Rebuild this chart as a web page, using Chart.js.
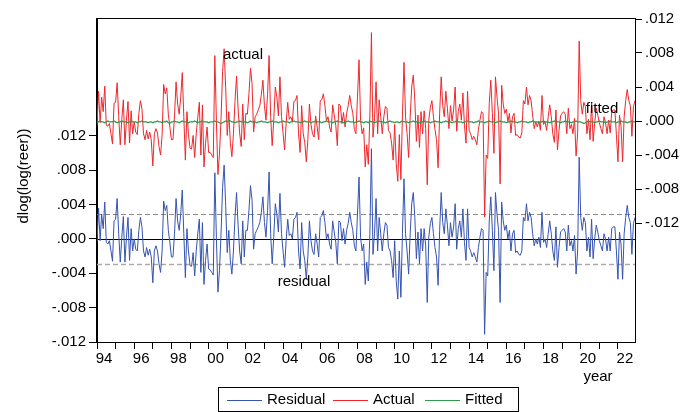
<!DOCTYPE html>
<html>
<head>
<meta charset="utf-8">
<script src="https://cdn.jsdelivr.net/npm/chart.js@4.4.0/dist/chart.umd.min.js"></script>
<style>
  html, body { margin: 0; background: #fff; }
  #wrap { width: 694px; height: 412px; position: relative; }
</style>
</head>
<body>
<div id="wrap"><canvas id="chart"></canvas></div>
<script>
// monthly observations, 1994M01 .. 2022M12
const residual = [
  -0.0004,0.0036,-0.0002,0.0029,0.0012,0.0043,-0.0004,-0.0006,-0.0002,-0.0014,-0.0026,0.0021,
  0.0023,0.0047,0.0006,-0.0027,0.0002,0.0026,-0.0027,0.0002,0.0025,-0.0025,0.0012,-0.0014,
  0,-0.0012,-0.0014,0.001,0.0025,0.0014,-0.0014,-0.0021,-0.001,-0.0019,-0.0012,-0.0021,
  -0.0051,-0.0014,-0.0008,-0.0014,-0.0029,-0.0039,-0.0014,0.0044,0.0033,0.0039,0.001,-0.0004,
  -0.0021,-0.0021,0.0006,0.0047,0.0021,0.001,0.0029,0.0057,0.0006,-0.0045,0.0012,-0.0014,
  -0.0031,-0.0032,-0.0016,-0.0043,-0.0014,0.0006,0.0023,-0.0039,0.0019,-0.0053,-0.0025,-0.0006,
  -0.0035,-0.0036,-0.0039,-0.0042,0.0077,0.0002,-0.0062,-0.0037,0.0006,0.006,0.0086,0.0039,
  -0.0016,0.001,-0.0025,-0.0041,-0.0014,0.0025,0.0054,0.0016,-0.0014,-0.0029,0.0021,-0.0021,
  0.001,0.001,0.0033,0.0062,0.0045,-0.0012,0.0006,0.001,0.0014,0.0019,0.0031,0.0049,
  0.0019,0.0002,0.0033,0.0078,0.0006,-0.0029,0.0002,0.0041,0.0029,0.0008,0.0053,0.0006,
  -0.0014,-0.0033,-0.0002,0.0023,0.0004,0.0006,0,0.0023,0.0025,0.0031,-0.0014,-0.0035,
  0.0019,-0.0014,-0.0025,-0.0047,-0.0021,0.0021,-0.0002,-0.0014,-0.0018,0.0006,-0.0006,-0.0021,
  0.0025,0.0027,0.0033,0.0019,0,0.0006,-0.0006,-0.0012,0.0021,0.0008,-0.0004,-0.0029,
  0.0021,0.0019,-0.0002,0.0012,-0.0006,0.001,0.0018,0.0031,0.0019,0.001,-0.0008,-0.0014,
  0.0029,0.0072,0.0002,-0.0014,-0.0006,-0.0053,-0.0027,-0.0049,0.0006,0.0105,-0.0018,0.0006,
  0.0047,-0.0014,0.0025,0.0006,-0.0014,0.0006,0.0019,0.0016,-0.001,-0.0014,-0.0025,-0.0045,
  -0.0002,-0.0049,-0.007,-0.0014,-0.0068,0.0006,0.007,0.0006,-0.0014,-0.0041,0.0006,0.0041,
  0.0054,0.0025,-0.0023,0.0008,-0.0029,0.0012,-0.0014,0.0012,-0.0008,-0.0074,0.0002,0.0018,
  0.0025,0.0006,-0.001,-0.0021,-0.0054,0.001,0.0054,0.0019,0.0006,0.0035,0.0016,-0.0008,
  0.0019,0.0002,0.0014,0.0041,-0.0012,0.0012,0.0021,0.0002,0.0035,-0.0004,-0.0025,0.0035,
  -0.001,-0.0014,-0.0021,-0.0016,-0.0021,-0.0027,-0.001,0.0002,0.0012,0.001,-0.0111,-0.0039,
  -0.0043,0.0021,0.0049,0.001,-0.0037,0.0054,0.0029,0.001,-0.0074,0.0043,0.0021,0.001,
  0.0016,0,0.001,-0.0014,0.0006,0.001,-0.0016,-0.0014,-0.0018,-0.0019,-0.0014,0.0025,
  0.0021,0.0041,0.0021,0.0031,0.0025,0.0006,-0.0008,0,-0.0006,0.0002,-0.001,0.0031,
  -0.0004,0,-0.001,0.0006,0.0021,0.0006,-0.0014,-0.0025,0.0014,-0.0033,-0.001,0.0008,
  0.001,0.0012,0.0008,-0.0014,0.0016,-0.0008,-0.0002,-0.0014,0.0004,-0.0041,-0.0014,0.0095,
  0.0025,0.001,0.0025,0.0019,-0.0014,0.0002,-0.0021,0.0023,-0.0023,0,0.0016,0.0008,
  -0.0002,-0.0008,-0.0014,0.0006,0,-0.0014,0.0002,-0.0014,0.0012,0.0014,0.0014,-0.0014,
  -0.0047,0.0008,-0.0006,-0.0047,0.0006,0.0025,0.0039,0.0025,0.0019,-0.0018,0.0018,0.0025
];

const fitted = [
  -0.0001,-0.0001,0,-0.0001,-0.0001,-0.0002,-0.0001,0,-0.0001,-0.0001,-0.0001,0,
  -0.0001,-0.0002,-0.0001,-0.0001,0,-0.0001,-0.0001,-0.0001,-0.0002,-0.0001,0,-0.0001,
  -0.0001,-0.0001,-0.0002,-0.0001,-0.0001,0,-0.0001,-0.0001,-0.0001,-0.0002,-0.0001,-0.0001,
  -0.0002,-0.0001,-0.0001,0,-0.0001,-0.0001,-0.0002,-0.0001,-0.0001,0,-0.0002,-0.0003,
  -0.0001,-0.0001,0,-0.0001,-0.0001,-0.0002,-0.0001,0,-0.0001,-0.0001,-0.0001,-0.0002,
  -0.0001,-0.0001,-0.0001,0,-0.0001,-0.0002,-0.0001,-0.0001,0,-0.0001,-0.0001,-0.0001,
  -0.0002,-0.0001,-0.0001,-0.0001,0,-0.0001,-0.0001,-0.0002,-0.0003,-0.0002,-0.0001,0,
  -0.0001,0.0001,0,-0.0001,-0.0001,-0.0002,-0.0001,-0.0001,0,-0.0001,-0.0001,-0.0001,
  -0.0001,-0.0002,-0.0001,0,-0.0001,-0.0001,-0.0001,-0.0002,-0.0001,-0.0001,0,-0.0001,
  -0.0001,-0.0001,-0.0002,-0.0001,-0.0001,0,-0.0001,-0.0001,-0.0001,-0.0002,-0.0001,-0.0001,
  0,-0.0001,-0.0001,-0.0001,-0.0002,-0.0001,-0.0001,0,-0.0001,-0.0001,-0.0001,-0.0002,
  -0.0001,-0.0001,0,-0.0001,-0.0001,-0.0001,-0.0002,-0.0001,-0.0001,0,-0.0001,-0.0001,
  -0.0001,-0.0002,-0.0001,-0.0001,0,-0.0001,-0.0001,-0.0001,-0.0002,-0.0001,-0.0001,0,
  -0.0001,-0.0001,-0.0001,-0.0002,-0.0001,-0.0001,0,-0.0001,-0.0001,-0.0001,-0.0002,-0.0001,
  -0.0001,0,-0.0001,-0.0001,-0.0002,-0.0001,-0.0001,-0.0002,0,-0.0001,-0.0001,-0.0002,
  -0.0001,-0.0001,0,-0.0001,-0.0001,-0.0001,-0.0002,-0.0001,-0.0001,0,-0.0001,-0.0001,
  -0.0002,-0.0001,-0.0001,-0.0002,-0.0001,0,-0.0001,-0.0001,-0.0001,-0.0002,-0.0001,-0.0001,
  0,-0.0001,-0.0001,-0.0001,-0.0002,-0.0001,-0.0001,0,-0.0001,-0.0001,-0.0001,-0.0002,
  -0.0001,-0.0001,0,-0.0001,-0.0001,-0.0001,-0.0002,-0.0001,-0.0001,0,-0.0001,-0.0001,
  -0.0001,-0.0002,-0.0001,-0.0001,0,-0.0001,-0.0001,-0.0001,-0.0002,-0.0001,-0.0001,0,
  -0.0001,-0.0001,-0.0001,-0.0002,-0.0001,-0.0001,0,-0.0001,-0.0001,-0.0001,-0.0002,-0.0001,
  -0.0001,0,-0.0001,-0.0001,-0.0001,-0.0002,-0.0001,-0.0001,0,-0.0001,-0.0001,-0.0001,
  -0.0002,-0.0001,-0.0001,0,-0.0001,-0.0001,-0.0001,-0.0002,-0.0001,-0.0001,0,-0.0001,
  -0.0001,-0.0001,-0.0002,-0.0001,-0.0001,0,-0.0001,-0.0001,-0.0001,-0.0002,-0.0001,-0.0001,
  0,-0.0001,-0.0001,-0.0001,-0.0002,-0.0001,-0.0001,0,-0.0001,-0.0001,-0.0001,-0.0002,
  -0.0001,-0.0001,0,-0.0001,-0.0001,-0.0001,-0.0002,-0.0001,-0.0001,0,-0.0001,-0.0001,
  -0.0001,-0.0002,-0.0003,-0.0002,-0.0001,0,-0.0001,-0.0001,-0.0001,-0.0002,-0.0001,-0.0001,
  0,-0.0001,-0.0001,-0.0001,-0.0002,-0.0001,-0.0001,0,-0.0001,-0.0001,-0.0001,-0.0002,
  -0.0001,-0.0001,0,-0.0001,-0.0001,-0.0001,-0.0002,-0.0001,-0.0001,0,-0.0001,-0.0001
];

// actual = fitted + residual
const actual = residual.map((r, i) => +(r + fitted[i]).toFixed(5));

const yearLabels = ['94','','96','','98','','00','','02','','04','','06','','08','',
                    '10','','12','','14','','16','','18','','20','','22'];
const leftTicks  = [-0.012, -0.008, -0.004, 0, 0.004, 0.008, 0.012];
const rightTicks = [-0.012, -0.008, -0.004, 0, 0.004, 0.008, 0.012];
const leftRange  = [-0.012, 0.0256];
const rightRange = [-0.026, 0.012];
const seBand = 0.00295;

const FONT = '"Liberation Sans", Arial, sans-serif';
const BLUE = '#3553b0', RED = '#f0262b', GREEN = '#2e9a4c';

const fmt = v => {
  if (Math.abs(v) < 1e-9) return '.000';
  const s = Math.abs(v).toFixed(3).replace(/^0/, '');
  return v < 0 ? '-' + s : s;
};
const pts = arr => arr.map((v, i) => ({ x: i, y: v }));

const decor = {
  id: 'decor',
  beforeDatasetsDraw(chart) {
    const { ctx, chartArea: a, scales: { y } } = chart;
    ctx.save();
    ctx.lineWidth = 1;
    ctx.setLineDash([5, 3]);
    ctx.strokeStyle = '#888';
    let py = Math.round(y.getPixelForValue(seBand)) + 0.5;
    ctx.beginPath(); ctx.moveTo(a.left, py); ctx.lineTo(a.right, py); ctx.stroke();
    ctx.strokeStyle = '#aaa';
    ctx.lineWidth = 1.5;
    py = Math.round(y.getPixelForValue(-seBand)) + 0.5;
    ctx.beginPath(); ctx.moveTo(a.left, py); ctx.lineTo(a.right, py); ctx.stroke();
    ctx.setLineDash([]);
    ctx.lineWidth = 1;
    ctx.strokeStyle = '#000';
    py = Math.round(y.getPixelForValue(0)) + 0.5;
    ctx.beginPath(); ctx.moveTo(a.left, py); ctx.lineTo(a.right, py); ctx.stroke();
    ctx.restore();
  },
  afterDraw(chart) {
    const { ctx, chartArea: a } = chart;
    ctx.save();
    ctx.strokeStyle = '#000';
    ctx.lineWidth = 1;
    ctx.strokeRect(a.left - 0.5, a.top - 0.5, a.right - a.left + 1, a.bottom - a.top + 1);

    ctx.fillStyle = '#000';
    ctx.font = '15px ' + FONT;
    ctx.textAlign = 'center';
    ctx.textBaseline = 'middle';
    ctx.fillText('actual', 243, 55);
    ctx.fillText('fitted', 602, 109);
    ctx.fillText('residual', 304, 282);
    ctx.fillText('year', 598, 377);

    ctx.save();
    ctx.translate(24, 176);
    ctx.rotate(-Math.PI / 2);
    ctx.fillText('dlog(log(reer))', 0, 0);
    ctx.restore();

    // legend
    ctx.strokeStyle = '#000';
    ctx.strokeRect(218.5, 387.5, 300, 24);
    const items = [['Residual', BLUE, 227], ['Actual', RED, 333], ['Fitted', GREEN, 425]];
    ctx.textAlign = 'left';
    items.forEach(([t, c, x]) => {
      ctx.strokeStyle = c;
      ctx.lineWidth = 1.2;
      ctx.beginPath(); ctx.moveTo(x, 400.5); ctx.lineTo(x + 35, 400.5); ctx.stroke();
      ctx.fillText(t, x + 40, 400);
    });
    ctx.restore();
  }
};

Chart.defaults.font.family = FONT;
Chart.defaults.font.size = 15;
Chart.defaults.color = '#000';

new Chart(document.getElementById('chart'), {
  type: 'line',
  data: {
    datasets: [
      { label: 'Fitted',   data: pts(fitted),   yAxisID: 'y1', borderColor: GREEN, borderWidth: 1.2, order: 0 },
      { label: 'Actual',   data: pts(actual),   yAxisID: 'y1', borderColor: RED,   borderWidth: 1,   order: 1 },
      { label: 'Residual', data: pts(residual), yAxisID: 'y',  borderColor: BLUE,  borderWidth: 1,   order: 2 }
    ]
  },
  options: {
    responsive: true,
    maintainAspectRatio: false,
    animation: false,
    events: [],
    elements: { point: { radius: 0 }, line: { tension: 0 } },
    layout: { padding: { top: 19, left: 0, right: 0, bottom: 0 } },
    plugins: { legend: { display: false }, tooltip: { enabled: false } },
    scales: {
      x: {
        type: 'linear',
        min: 0,
        max: residual.length - 1,
        afterBuildTicks: s => { s.ticks = yearLabels.map((_, k) => ({ value: k * 12 })); },
        afterFit: s => { s.height = 70; },
        ticks: { autoSkip: false, maxRotation: 0, padding: 1, labelOffset: 7,
                 callback: (v, idx) => yearLabels[idx] },
        grid: { drawOnChartArea: false, drawTicks: true, tickLength: 7, color: '#000' },
        border: { display: true, color: '#000' }
      },
      y: {
        position: 'left',
        min: leftRange[0],
        max: leftRange[1],
        afterBuildTicks: s => { s.ticks = leftTicks.map(v => ({ value: v })); },
        afterFit: s => { s.width = 97; },
        ticks: { padding: 3, callback: v => fmt(v) },
        grid: { drawOnChartArea: false, drawTicks: true, tickLength: 8, color: '#000' },
        border: { display: true, color: '#000' }
      },
      y1: {
        position: 'right',
        min: rightRange[0],
        max: rightRange[1],
        afterBuildTicks: s => { s.ticks = rightTicks.map(v => ({ value: v })); },
        afterFit: s => { s.width = 59; },
        ticks: { padding: 3, callback: v => fmt(v) },
        grid: { drawOnChartArea: false, drawTicks: true, tickLength: 7, color: '#000' },
        border: { display: true, color: '#000' }
      }
    }
  },
  plugins: [decor]
});
</script>
</body>
</html>
